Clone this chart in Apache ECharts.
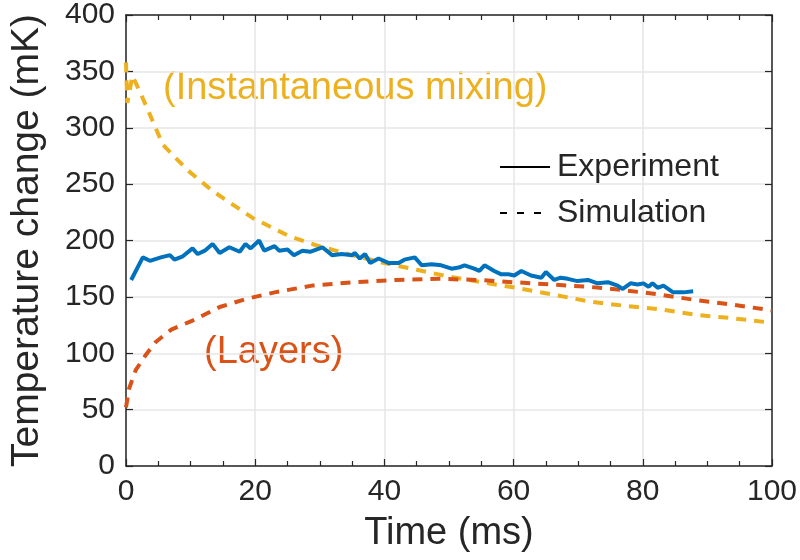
<!DOCTYPE html>
<html>
<head>
<meta charset="utf-8">
<script src="https://cdn.jsdelivr.net/npm/echarts@6/dist/echarts.min.js"></script>
<style>html,body{margin:0;padding:0;background:#fff}#c{width:800px;height:560px}</style>
</head>
<body>
<div id="c"></div>
<script>
var expTime = [0.8,2.6,3.7,5.4,6.8,7.5,8.8,10.3,11.1,12.2,13.4,14.5,16,17.6,18.5,19.3,20.6,21.4,23,23.7,25,26,27.3,28.5,30.4,31.9,33.4,35,35.4,36.2,37,37.8,39.1,40.7,42.2,43.1,44.7,45.8,47.3,48.8,50.4,51.5,52.4,53.9,54.7,55.5,57,58.1,59.2,60.1,61.2,62.7,64.3,65,66.3,67.3,68.4,69.9,71.5,73,74.6,76.1,76.9,78.1,79.2,80.1,80.9,81.5,82.3,83.2,84.7,86.3,87.8];
var expValue = [165,185,182,185,187,183,186,193,188,191,197,189,194,190,197,193,200,191,195,191,192,187,191,190,194,187,188,187,189,184,188,180,184,180,180,183,185,178,179,178,175,176,178,175,173,178,173,170,170,169,173,169,167,172,165,167,166,164,165,162,163,160,157,162,161,162,159,162,158,160,154,154,155];
var mixTime = [0,0.2,1.0,2.3,3.6,5.7,9.6,13.4,19.6,25.2,29.3,35,40,45,50,55,60.4,66.1,71.6,77.3,82.7,88.4,94,100];
var mixValue = [358,322,346,330,313,285,262,244,220,204,196,187,180,174,168,163,158,152,146,142,139,134,131,127];
var layTime = [0,0.5,1.5,3,4.6,7,10.3,14.5,18.5,23,28.8,35.4,41.6,48.5,54.5,60,65.8,71.5,77,82.7,88.4,94,100];
var layValue = [52,69,85,98,110,121,129,141,148,154,160,163,165,166,165,163,161,159,156,152,147,143,138];
var xTicks = [0,20,40,60,80,100];
var yTicks = [0,50,100,150,200,250,300,350,400];
var legendNames = ['Experiment','Simulation'];
var annoMix = '(Instantaneous mixing)';
var annoLay = '(Layers)';

function pairs(t, v){ return t.map(function(x,i){ return [x, v[i]]; }); }

var FONT = 'Liberation Sans, Arial, Helvetica, sans-serif';
var AX = '#262626';
var chart = echarts.init(document.getElementById('c'), null, {renderer:'canvas'});
chart.setOption({
  animation:false,
  backgroundColor:'#fff',
  grid:{left:123,right:28,top:13,bottom:94,containLabel:false},
  legend:{
    data:[
      {name:legendNames[0], itemStyle:{opacity:0, borderWidth:0}, lineStyle:{color:'#000',width:2,type:'solid'}},
      {name:legendNames[1], itemStyle:{opacity:0, borderWidth:0}, lineStyle:{color:'#000',width:2,type:[7,10]}}
    ],
    orient:'vertical', left:494, top:146,
    itemWidth:50, itemHeight:30, itemGap:14,
    textStyle:{fontFamily:FONT,fontSize:32,color:AX,padding:[0,0,0,2]},
    selectedMode:false
  },
  xAxis:[{
    type:'value', min:xTicks[0], max:xTicks[xTicks.length-1], interval:20,
    name:'Time (ms)', nameLocation:'middle', nameGap:49,
    nameTextStyle:{fontFamily:FONT,fontSize:38,color:AX},
    axisLine:{show:true,onZero:false,lineStyle:{color:AX,width:1.5}},
    axisTick:{show:true,inside:true,length:7,lineStyle:{color:AX,width:1.2}},
    minorTick:{show:true,splitNumber:4,length:5,lineStyle:{color:AX,width:1.2}},
    axisLabel:{fontFamily:FONT,fontSize:30,color:AX,margin:11},
    splitLine:{show:true,lineStyle:{color:'#e6e6e6',width:1.5}}
  },{
    type:'value', position:'top', min:0, max:100, interval:20,
    axisLine:{show:true,onZero:false,lineStyle:{color:AX,width:1.5}},
    axisTick:{show:true,inside:true,length:7,lineStyle:{color:AX,width:1.2}},
    minorTick:{show:true,splitNumber:4,length:5,lineStyle:{color:AX,width:1.2}},
    axisLabel:{show:false}, splitLine:{show:false}
  }],
  yAxis:[{
    type:'value', min:yTicks[0], max:yTicks[yTicks.length-1], interval:50,
    name:'Temperature change (mK)', nameLocation:'middle', nameGap:79,
    nameTextStyle:{fontFamily:FONT,fontSize:39,color:AX},
    axisLine:{show:true,onZero:false,lineStyle:{color:AX,width:1.5}},
    axisTick:{show:true,inside:true,length:7,lineStyle:{color:AX,width:1.2}},
    axisLabel:{fontFamily:FONT,fontSize:30,color:AX,margin:11},
    splitLine:{show:true,lineStyle:{color:'#e6e6e6',width:1.5}}
  },{
    type:'value', position:'right', min:0, max:400, interval:50,
    axisLine:{show:true,onZero:false,lineStyle:{color:AX,width:1.5}},
    axisTick:{show:true,inside:true,length:7,lineStyle:{color:AX,width:1.2}},
    axisLabel:{show:false}, splitLine:{show:false}
  }],
  series:[
    {name:'mix', type:'line', data:pairs(mixTime,mixValue), showSymbol:false, symbol:'none',
     lineStyle:{color:'#EDB120',width:4,type:[10,8]}, z:3},
    {name:'lay', type:'line', data:pairs(layTime,layValue), showSymbol:false, symbol:'none',
     lineStyle:{color:'#D95319',width:4,type:[10,8]}, z:3},
    {name:'exp', type:'line', data:pairs(expTime,expValue), showSymbol:false, symbol:'none',
     lineStyle:{color:'#0072BD',width:4}, z:4},
    {name:legendNames[0], type:'line', data:[], symbol:'none', showSymbol:false, itemStyle:{color:'#000'},
     lineStyle:{color:'#000',width:2}},
    {name:legendNames[1], type:'line', data:[], symbol:'none', showSymbol:false, itemStyle:{color:'#000'},
     lineStyle:{color:'#000',width:2,type:[7,10]}}
  ],
  graphic:[
    {type:'text', left:163, top:70, style:{text:annoMix, fill:'#EDB120', font:'38px '+FONT}},
    {type:'text', left:204, top:334, style:{text:annoLay, fill:'#D95319', font:'38px '+FONT}}
  ]
});
</script>
</body>
</html>
